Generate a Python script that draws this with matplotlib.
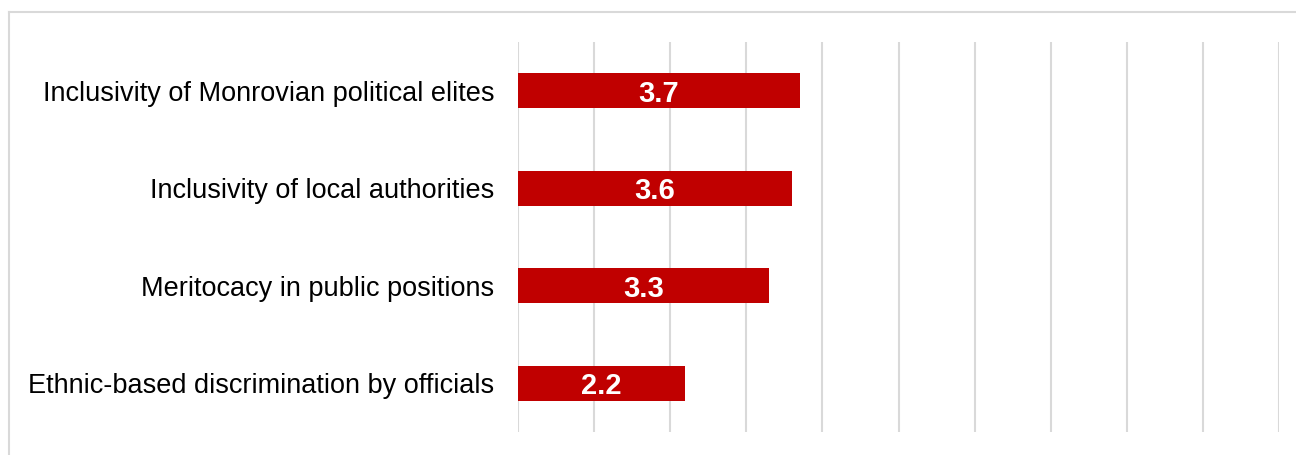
import matplotlib.pyplot as plt
from matplotlib.lines import Line2D

# ==========================
# Data
# ==========================

categories = [
    "Inclusivity of Monrovian political elites",
    "Inclusivity of local authorities",
    "Meritocacy in public positions",
    "Ethnic-based discrimination by officials",
]
scores = [3.7, 3.6, 3.3, 2.2]

plt.rcParams["font.family"] = ["Liberation Sans", "DejaVu Sans"]

fig = plt.figure(figsize=(12.96, 4.55), dpi=100)
ax = fig.add_axes([0.3997, 0.0505, 0.5872, 0.8571])

ypos = list(range(len(categories)))[::-1]
bars = ax.barh(ypos, scores, height=0.36, color="#c00000", zorder=3)

for y, v in zip(ypos, scores):
    ax.text(v / 2, y, f"{v:.1f}", color="white", fontsize=21, fontweight="bold",
            ha="center", va="center_baseline", zorder=4)

ax.set_xlim(0, 10)
ax.set_ylim(-0.5, len(categories) - 0.5)
ax.set_xticks(range(0, 11))
ax.xaxis.grid(True, color="#d9d9d9", linewidth=1.5, zorder=0)
ax.tick_params(axis="x", bottom=False, labelbottom=False)
ax.tick_params(axis="y", left=False, pad=13.5)
ax.set_yticks(ypos)
ax.set_yticklabels(categories, fontsize=19.5)
for s in ax.spines.values():
    s.set_visible(False)

# outer frame (top and left edges visible)
fig.add_artist(Line2D([9 / 1296, 9 / 1296], [0, 1 - 12 / 455],
                      transform=fig.transFigure, color="#d9d9d9", linewidth=1.5))
fig.add_artist(Line2D([9 / 1296, 1], [1 - 12 / 455, 1 - 12 / 455],
                      transform=fig.transFigure, color="#d9d9d9", linewidth=1.5))

fig.savefig("out.png", dpi=100)
